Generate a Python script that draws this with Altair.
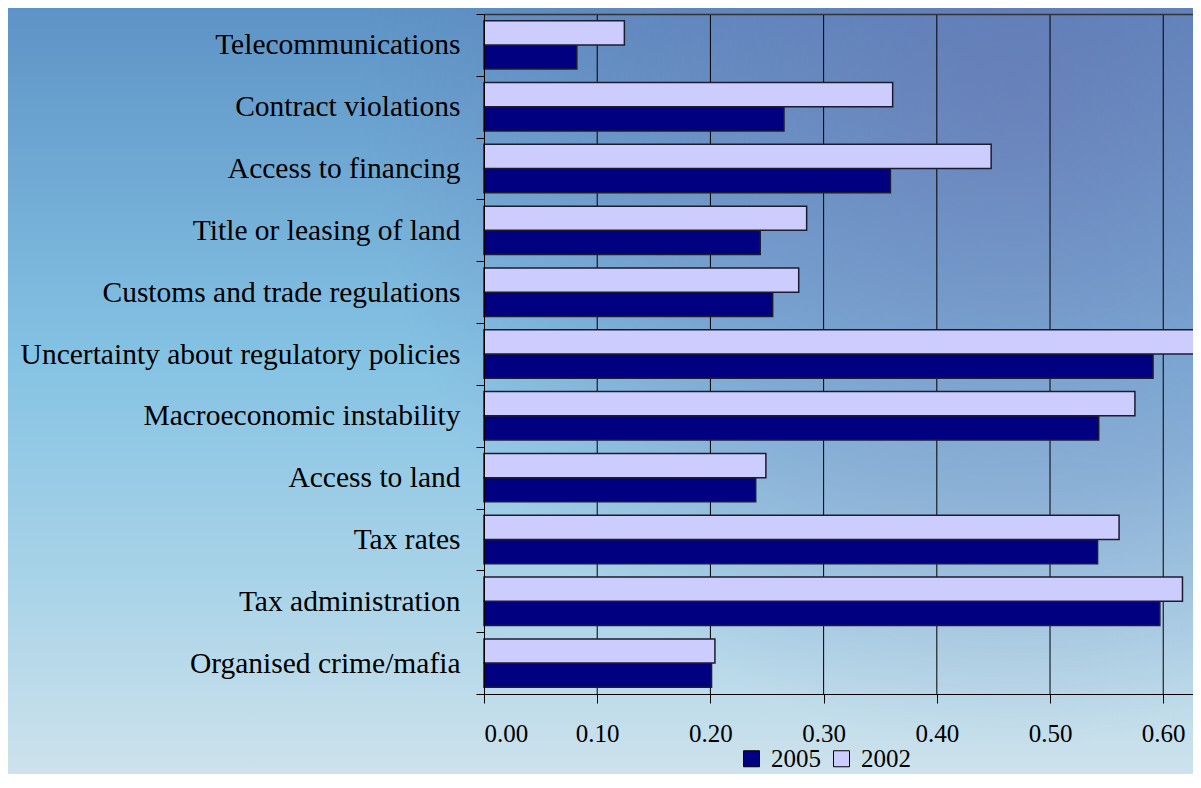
import altair as alt
import pandas as pd

# ---------------- data ----------------
categories = [
    "Telecommunications",
    "Contract violations",
    "Access to financing",
    "Title or leasing of land",
    "Customs and trade regulations",
    "Uncertainty about regulatory policies\u00a0",
    "Macroeconomic instability",
    "Access to land\u00a0",
    "Tax rates",
    "Tax administration",
    "Organised crime/mafia",
]
values_2005 = [0.082, 0.265, 0.359, 0.244, 0.255, 0.591, 0.543, 0.240, 0.542, 0.597, 0.201]
values_2002 = [0.124, 0.361, 0.448, 0.285, 0.278, 0.630, 0.575, 0.249, 0.561, 0.617, 0.204]
years = ["2005", "2002"]
x_ticks = [0.0, 0.1, 0.2, 0.3, 0.4, 0.5, 0.6]
grid_ticks = [0.1, 0.2, 0.3, 0.4, 0.5, 0.6]

rows = []
for c, v05, v02 in zip(categories, values_2005, values_2002):
    rows.append({"category": c, "year": "2005", "value": v05})
    rows.append({"category": c, "year": "2002", "value": v02})
df = pd.DataFrame(rows)
grid_df = pd.DataFrame({"t": grid_ticks})

# ---------------- layout ----------------
W, H = 709, 680
PAD = {"left": 476, "top": 6, "right": 0, "bottom": 80}
FONT = "Liberation Serif"
XMAX = 0.6263

# ---------------- background ----------------
bg_data = alt.Data(values=[{"k": 1}])
base_grad = {
    "gradient": "linear", "x1": 0, "y1": 0, "x2": 0, "y2": 1,
    "stops": [
        {"offset": 0.0, "color": "#5d93c6"},
        {"offset": 0.45, "color": "#84c2e3"},
        {"offset": 0.75, "color": "#a9d3e8"},
        {"offset": 1.0, "color": "#cde2ec"},
    ],
}
tint_grad = {
    "gradient": "radial", "x1": 0.85, "y1": 0.25, "r1": 0.0,
    "x2": 0.85, "y2": 0.25, "r2": 0.55,
    "stops": [
        {"offset": 0.0, "color": "rgba(105,105,170,0.55)"},
        {"offset": 0.6, "color": "rgba(105,110,175,0.30)"},
        {"offset": 1.0, "color": "rgba(105,110,175,0.0)"},
    ],
}

def bg_layer(fill):
    return alt.Chart(bg_data).mark_rect(fill=fill, strokeWidth=0).encode(
        x=alt.value(-PAD["left"]), x2=alt.value(W + PAD["right"]),
        y=alt.value(-PAD["top"]), y2=alt.value(H + PAD["bottom"]),
    )

bg = bg_layer(base_grad)
tint = bg_layer(tint_grad)

x_scale = alt.Scale(domain=[0, XMAX], nice=False, zero=True, clamp=False)

grid = alt.Chart(grid_df).mark_rule(color="black", strokeWidth=1).encode(
    x=alt.X("t:Q", scale=x_scale,
            axis=alt.Axis(orient="top", labels=False, ticks=False, grid=False,
                          domain=True, domainColor="#333333", domainWidth=1.5,
                          title=None, zindex=1)),
)

bars = alt.Chart(df).mark_bar(stroke="#1c1c30", strokeWidth=1.5).encode(
    y=alt.Y("category:N", sort=categories,
            scale=alt.Scale(paddingInner=0, paddingOuter=0),
            axis=alt.Axis(title=None, tickBand="extent", labelFontSize=29.5, labelFont=FONT,
                          labelColor="black", domainColor="black", tickColor="black",
                          tickSize=8, labelPadding=16, labelLimit=0, grid=False, zindex=1)),
    yOffset=alt.YOffset("year:N", sort=["2002", "2005"],
                        scale=alt.Scale(paddingInner=0, paddingOuter=0.277)),
    x=alt.X("value:Q", scale=x_scale,
            axis=alt.Axis(values=x_ticks, format=".2f", title=None, grid=False,
                          labelFontSize=25, labelFont=FONT, labelColor="black",
                          tickSize=9, labelPadding=18, domainColor="black",
                          tickColor="black", zindex=1)),
    color=alt.Color("year:N", scale=alt.Scale(domain=years, range=["#000080", "#ccccff"]),
                    legend=alt.Legend(orient="none", legendX=255, legendY=732,
                                      direction="horizontal", title=None,
                                      symbolType="square", symbolSize=256,
                                      symbolStrokeColor="black", symbolStrokeWidth=1,
                                      labelFontSize=25, labelFont=FONT, labelColor="black",
                                      labelOffset=7, columnPadding=8, padding=0)),
)

chart = alt.layer(bg, tint, grid, bars).resolve_axis(x="independent").properties(
    width=W, height=H, padding=PAD,
    autosize=alt.AutoSizeParams(type="none"),
).configure(font=FONT).configure_view(stroke=None)

chart.save("out.html", embed_options={"renderer": "svg", "actions": False})
